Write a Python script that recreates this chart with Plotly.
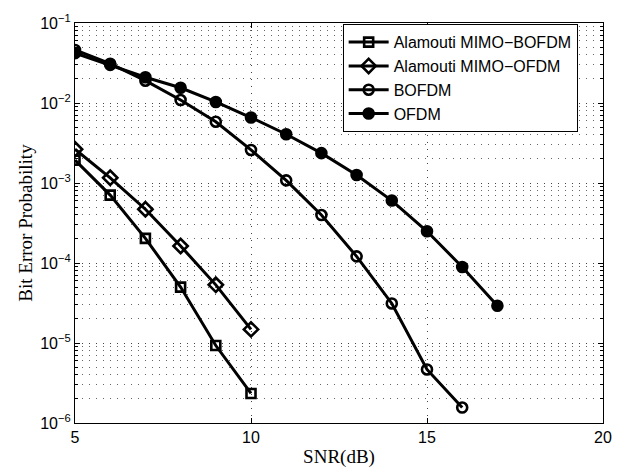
import plotly.graph_objects as go

snr_a = [5, 6, 7, 8, 9, 10]
ber_mimo_bofdm = [1.93e-3, 7.06e-4, 2.03e-4, 5.0e-5, 9.3e-6, 2.34e-6]
ber_mimo_ofdm = [2.64e-3, 1.16e-3, 4.7e-4, 1.63e-4, 5.33e-5, 1.48e-5]

snr_b = [5, 6, 7, 8, 9, 10, 11, 12, 13, 14, 15, 16]
ber_bofdm = [0.046, 0.031, 0.019, 0.0109, 5.83e-3, 2.59e-3, 1.08e-3,
             3.98e-4, 1.21e-4, 3.12e-5, 4.67e-6, 1.56e-6]

snr_c = [5, 6, 7, 8, 9, 10, 11, 12, 13, 14, 15, 16, 17]
ber_ofdm = [0.042, 0.030, 0.021, 0.0155, 0.0103, 6.58e-3, 4.07e-3,
            2.36e-3, 1.26e-3, 6.03e-4, 2.49e-4, 8.93e-5, 2.92e-5]

x_ticks = [5, 10, 15, 20]
y_ticks = [1e-6, 1e-5, 1e-4, 1e-3, 1e-2, 1e-1]
y_labels = ["10<sup>−6</sup>", "10<sup>−5</sup>", "10<sup>−4</sup>",
            "10<sup>−3</sup>", "10<sup>−2</sup>", "10<sup>−1</sup>"]
# minor ticks/grid at 2..9 within every decade
y_minor = [m * d for d in y_ticks[:-1] for m in range(2, 10)]

series = [
    ("Alamouti MIMO−BOFDM", snr_a, ber_mimo_bofdm, "square-open", 9),
    ("Alamouti MIMO−OFDM", snr_a, ber_mimo_ofdm, "diamond-open", 11),
    ("BOFDM", snr_b, ber_bofdm, "circle-open", 10),
    ("OFDM", snr_c, ber_ofdm, "circle", 10),
]

fig = go.Figure()
for name, x, y, sym, size in series:
    fig.add_trace(go.Scatter(
        x=x, y=y, name=name, mode="lines+markers",
        line=dict(color="black", width=3),
        marker=dict(symbol=sym, size=size, color="black",
                    line=dict(color="black", width=2.6)),
    ))

grid_dash = "1px,6px"
sans = "Liberation Sans, Arial, sans-serif"
serif = "Liberation Serif, Times New Roman, serif"
fig.update_layout(
    width=627, height=476,
    margin=dict(l=75, r=24, t=12, b=48),
    paper_bgcolor="white", plot_bgcolor="white",
    font=dict(family=sans, size=16, color="black"),
    showlegend=True,
    legend=dict(
        x=0.952, y=0.997, xanchor="right", yanchor="top",
        bgcolor="white", bordercolor="black", borderwidth=1,
        font=dict(family=sans, size=16),
        tracegroupgap=0, itemwidth=40,
    ),
    xaxis=dict(
        range=[5, 20], tickvals=x_ticks, ticktext=[str(v) for v in x_ticks],
        showline=True, linecolor="black", linewidth=1.2, mirror="ticks",
        ticks="inside", ticklen=5, tickcolor="black",
        showgrid=True, gridcolor="#444", gridwidth=1, griddash=grid_dash,
        zeroline=False,
        title=dict(text="SNR(dB)", standoff=4, font=dict(family=serif, size=19)),
    ),
    yaxis=dict(
        type="log", range=[-6, -1], tickvals=y_ticks, ticktext=y_labels,
        showline=True, linecolor="black", linewidth=1.2, mirror="ticks",
        ticks="inside", ticklen=5, tickcolor="black",
        showgrid=True, gridcolor="#444", gridwidth=1, griddash=grid_dash,
        minor=dict(tickvals=y_minor, ticks="inside", ticklen=3, tickcolor="black",
                   showgrid=True, gridcolor="#666", gridwidth=1, griddash=grid_dash),
        zeroline=False,
        title=dict(text="Bit Error Probability", standoff=2,
                   font=dict(family=serif, size=19)),
    ),
)

fig.write_html("out.html")
